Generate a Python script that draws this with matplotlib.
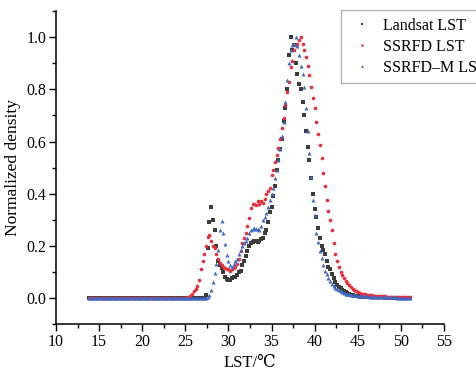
import numpy as np
import matplotlib.pyplot as plt
from matplotlib.ticker import MultipleLocator

plt.rcParams['font.family'] = ['Liberation Serif', 'DejaVu Serif']
plt.rcParams['font.size'] = 11

# LST grid (deg C), 0.2 step from 13.8 to 51.0
lst = np.round(np.arange(13.8, 51.01, 0.2), 1)

# all three curves sit at zero from 13.8 to 24.8 C (56 points)
flat = [0.0] * 56

# values from 25.0 to 51.0 C
landsat = flat + [
    0.0, 0.0, 0.0, 0.0, 0.0, 0.0, 0.0, 0.0, 0.0, 0.0, 0.0, 0.0,   # 25.0-27.2
    0.01, 0.19, 0.29, 0.35, 0.30, 0.26, 0.20, 0.14, 0.125, 0.115,  # 27.4-29.2
    0.10, 0.08, 0.072, 0.07, 0.07, 0.078, 0.08, 0.082, 0.088, 0.10,  # 29.4-31.2
    0.105, 0.125, 0.14, 0.16, 0.18, 0.20, 0.21, 0.215, 0.22, 0.22,  # 31.4-33.2
    0.215, 0.22, 0.225, 0.23, 0.25, 0.26, 0.29, 0.33, 0.35, 0.39,  # 33.4-35.2
    0.43, 0.49, 0.53, 0.57, 0.61, 0.68, 0.73, 0.80, 0.93, 1.00,  # 35.4-37.2
    0.95, 0.97, 0.90, 0.86, 0.82, 0.80, 0.75, 0.70, 0.64, 0.58,  # 37.4-39.2
    0.53, 0.46, 0.40, 0.34, 0.31, 0.27, 0.23, 0.20, 0.185, 0.17,  # 39.4-41.2
    0.14, 0.12, 0.11, 0.09, 0.075, 0.06, 0.05, 0.043, 0.037, 0.032,  # 41.4-43.2
    0.027, 0.023, 0.02, 0.016, 0.013, 0.011, 0.009, 0.008, 0.007, 0.006,  # 43.4-45.2
    0.005, 0.005, 0.004, 0.004, 0.003, 0.003, 0.003, 0.003, 0.003, 0.002,  # 45.4-47.2
    0.002, 0.002, 0.002, 0.002, 0.001, 0.001, 0.001, 0.001, 0.001, 0.001,  # 47.4-49.2
    0.001, 0.001, 0.001, 0.001, 0.001, 0.001, 0.001, 0.001, 0.001,  # 49.4-51.0
]

ssrfd = flat + [
    0.0, 0.002, 0.004, 0.008, 0.014, 0.025, 0.035, 0.045, 0.07, 0.11,  # 25.0-26.8
    0.14, 0.17, 0.20, 0.235, 0.24, 0.22, 0.20, 0.19, 0.17, 0.15,  # 27.0-28.8
    0.135, 0.125, 0.12, 0.115, 0.11, 0.11, 0.105, 0.11, 0.115, 0.12,  # 29.0-30.8
    0.13, 0.15, 0.18, 0.21, 0.23, 0.25, 0.275, 0.305, 0.345, 0.36,  # 31.0-32.8
    0.36, 0.355, 0.37, 0.36, 0.37, 0.365, 0.38, 0.40, 0.41, 0.42,  # 33.0-34.8
    0.47, 0.49, 0.52, 0.55, 0.575, 0.61, 0.65, 0.69, 0.74, 0.79,  # 35.0-36.8
    0.83, 0.885, 0.91, 0.95, 0.97, 0.975, 0.99, 1.00, 0.975, 0.95,  # 37.0-38.8
    0.925, 0.89, 0.855, 0.81, 0.765, 0.73, 0.675, 0.63, 0.585, 0.535,  # 39.0-40.8
    0.48, 0.43, 0.375, 0.335, 0.30, 0.26, 0.21, 0.17, 0.14, 0.12,  # 41.0-42.8
    0.10, 0.088, 0.075, 0.065, 0.056, 0.048, 0.041, 0.035, 0.03, 0.026,  # 43.0-44.8
    0.022, 0.019, 0.017, 0.015, 0.014, 0.013, 0.012, 0.011, 0.010, 0.009,  # 45.0-46.8
    0.009, 0.008, 0.008, 0.007, 0.007, 0.006, 0.006, 0.005, 0.005, 0.005,  # 47.0-48.8
    0.004, 0.004, 0.004, 0.004, 0.003, 0.003, 0.003, 0.003, 0.002, 0.002,  # 49.0-50.8
    0.002,  # 51.0
]

ssrfd_m = flat + [
    0.0, 0.0, 0.0, 0.0, 0.0, 0.0, 0.0, 0.0, 0.0, 0.0, 0.0, 0.0, 0.0,  # 25.0-27.4
    0.005, 0.012, 0.03, 0.06, 0.095, 0.13, 0.185, 0.26, 0.295, 0.25,  # 27.6-29.4
    0.205, 0.165, 0.14, 0.125, 0.12, 0.13, 0.14, 0.15, 0.17, 0.185,  # 29.6-31.4
    0.20, 0.21, 0.22, 0.23, 0.25, 0.26, 0.265, 0.27, 0.265, 0.265,  # 31.6-33.4
    0.26, 0.275, 0.30, 0.31, 0.325, 0.35, 0.375, 0.40, 0.42, 0.46,  # 33.6-35.4
    0.49, 0.53, 0.57, 0.62, 0.675, 0.75, 0.835, 0.90, 0.95, 0.97,  # 35.6-37.4
    0.975, 1.00, 0.965, 0.93, 0.89, 0.86, 0.81, 0.73, 0.64, 0.555,  # 37.6-39.4
    0.465, 0.375, 0.32, 0.25, 0.215, 0.18, 0.155, 0.125, 0.105, 0.09,  # 39.6-41.4
    0.078, 0.066, 0.055, 0.046, 0.039, 0.034, 0.03, 0.026, 0.022, 0.019,  # 41.6-43.4
    0.017, 0.015, 0.014, 0.013, 0.012, 0.011, 0.01, 0.009, 0.008, 0.008,  # 43.6-45.4
    0.007, 0.007, 0.006, 0.006, 0.005, 0.005, 0.005, 0.005, 0.004, 0.004,  # 45.6-47.4
    0.004, 0.004, 0.004, 0.003, 0.003, 0.003, 0.002, 0.002, 0.002, 0.002,  # 47.6-49.4
    0.001, 0.001, 0.001, 0.001, 0.001, 0.001, 0.001, 0.001,  # 49.6-51.0
]

fig = plt.figure(figsize=(4.76, 3.72), dpi=100)
ax = fig.add_axes([0.1176, 0.129, 0.8152, 0.841])

ax.plot(lst, landsat, 's', ms=2.3, mew=0, color='#3c3c3c', label='Landsat LST')
ax.plot(lst, ssrfd, 'o', ms=2.6, mew=0, color='#e8303a', label='SSRFD LST')
ax.plot(lst, ssrfd_m, '^', ms=2.9, mew=0, color='#4169c4', label='SSRFD\u2013M LST')

ax.set_xlim(10, 55)
ax.set_ylim(-0.1, 1.1)
ax.set_xticks(np.arange(10, 56, 5))
ax.set_yticks([0.0, 0.2, 0.4, 0.6, 0.8, 1.0])
ax.xaxis.set_minor_locator(MultipleLocator(2.5))
ax.yaxis.set_minor_locator(MultipleLocator(0.1))
ax.tick_params(which='major', direction='out', length=5, width=1, pad=2)
ax.tick_params(which='minor', direction='out', length=3, width=1)
ax.tick_params(labelsize=11.5)

for side in ['top', 'right']:
    ax.spines[side].set_visible(False)
for side in ['left', 'bottom']:
    ax.spines[side].set_linewidth(1.1)

ax.set_xlabel('LST/\u2103', fontsize=12, labelpad=4)
ax.set_ylabel('Normalized density', fontsize=12.5, labelpad=4)

leg = fig.legend(loc='upper left', bbox_to_anchor=(0.716, 0.972), frameon=True,
                 fancybox=False, edgecolor='#a0a0a0', fontsize=11.5,
                 numpoints=1, markerscale=0.7, handlelength=1.8,
                 handletextpad=0.4, borderpad=0.45, labelspacing=0.32,
                 borderaxespad=0)
leg.get_frame().set_linewidth(1.0)

fig.savefig('out.png', dpi=100)
